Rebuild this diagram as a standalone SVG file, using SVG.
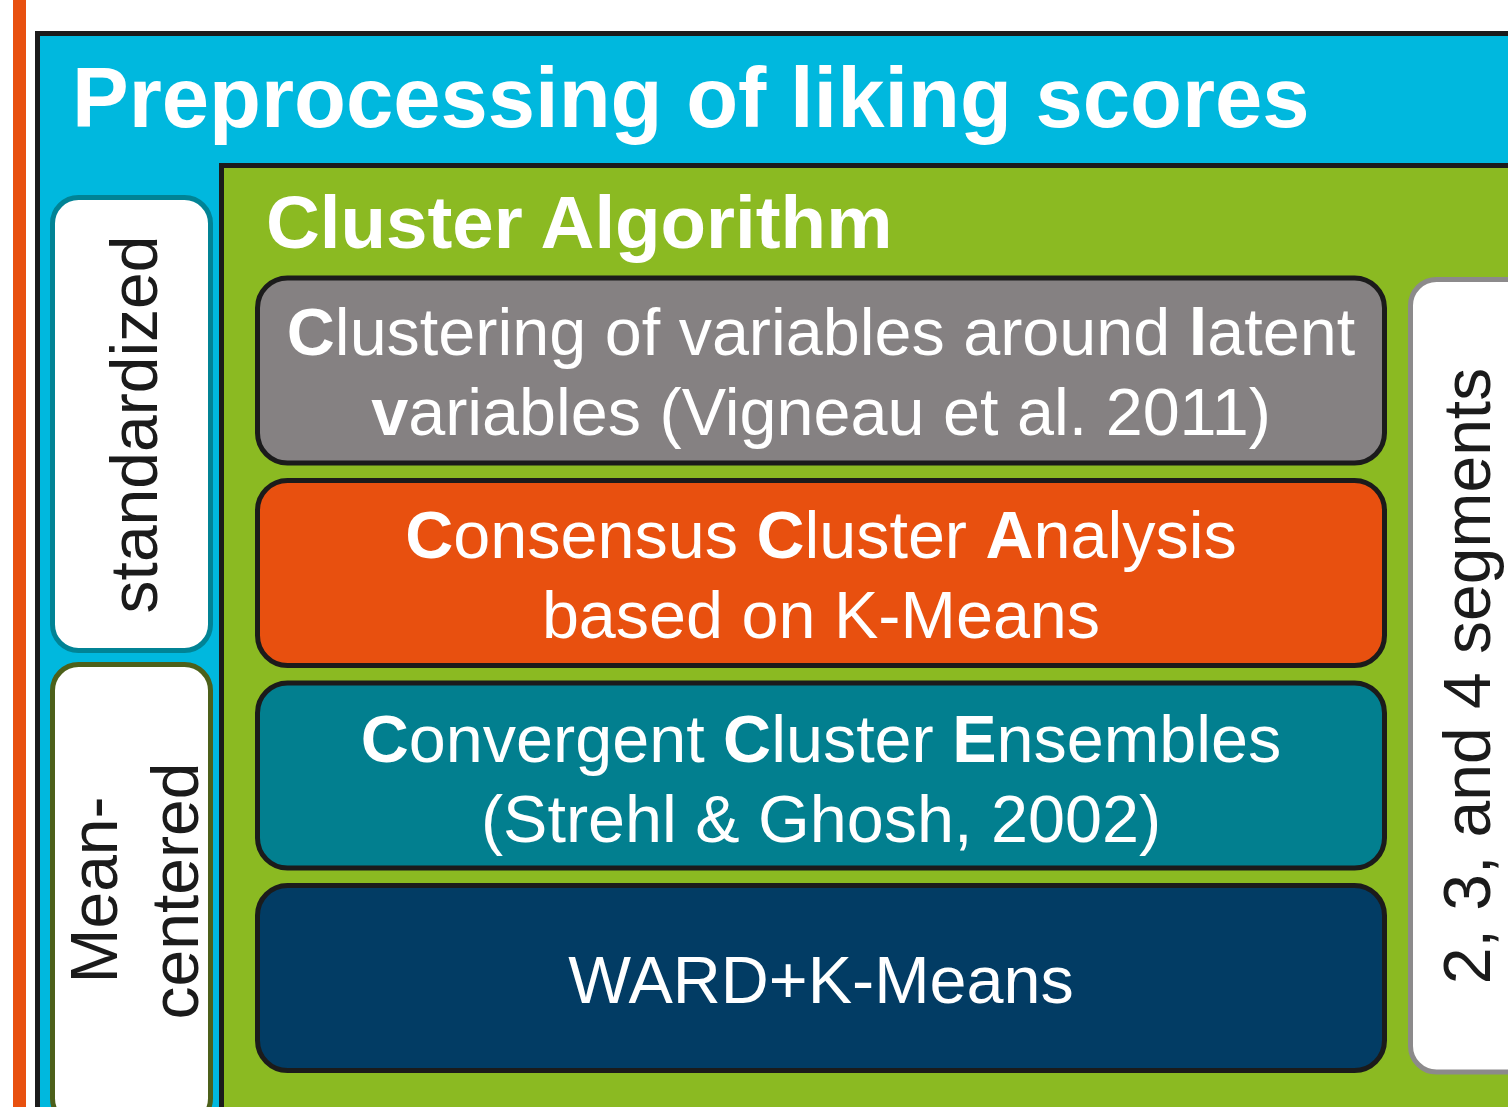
<svg xmlns="http://www.w3.org/2000/svg" width="1508" height="1107" viewBox="0 0 1508 1107">
<style>
.frame{stroke:#1b1b1b;stroke-width:5}
.algo{stroke:#1b1b1b;stroke-width:5}
.head{font-family:"Liberation Sans",Arial,sans-serif;font-weight:bold;fill:#ffffff}
.lbl{font-family:"Liberation Sans",Arial,sans-serif;font-size:66.5px;fill:#ffffff;text-anchor:middle}
.side{font-family:"Liberation Sans",Arial,sans-serif;font-size:66px;fill:#1b1b1b;text-anchor:middle}
.b{font-weight:bold}
</style>
<rect x="0" y="0" width="1508" height="1107" fill="#ffffff"/>
<rect id="orange-bar" x="13" y="0" width="13" height="1107" fill="#E8500F"/>
<g id="preprocessing">
  <rect class="frame" x="37.5" y="33.5" width="1520" height="1120" fill="#00B8DE"/>
  <text class="head" x="72" y="127" font-size="85">Preprocessing of liking scores</text>
</g>
<g id="standardized">
  <rect x="52.5" y="197.5" width="158" height="453" rx="26" fill="#ffffff" stroke="#018395" stroke-width="5"/>
  <text class="side" transform="translate(157,424.5) rotate(-90)">standardized</text>
</g>
<g id="mean-centered">
  <rect x="52.5" y="664.5" width="158" height="460" rx="26" fill="#ffffff" stroke="#4C601A" stroke-width="5"/>
  <text class="side" transform="translate(117,890) rotate(-90)">Mean-</text>
  <text class="side" transform="translate(198,891) rotate(-90)">centered</text>
</g>
<g id="cluster-algorithm">
  <rect class="frame" x="221.5" y="165.5" width="1320" height="990" fill="#8BBA22"/>
  <text class="head" x="266" y="248" font-size="74.5">Cluster Algorithm</text>
</g>
<g id="clv">
  <rect class="algo" x="257.5" y="278" width="1127" height="185" rx="30" fill="#858182"/>
  <text class="lbl" x="821" y="355"><tspan class="b">C</tspan>lustering of variables around <tspan class="b">l</tspan>atent</text>
  <text class="lbl" x="821" y="435"><tspan class="b">v</tspan>ariables (Vigneau et al. 2011)</text>
</g>
<g id="cca">
  <rect class="algo" x="257.5" y="480.5" width="1127" height="185" rx="30" fill="#E8500F"/>
  <text class="lbl" x="821" y="558"><tspan class="b">C</tspan>onsensus <tspan class="b">C</tspan>luster <tspan class="b">A</tspan>nalysis</text>
  <text class="lbl" x="821" y="638">based on K-Means</text>
</g>
<g id="cce">
  <rect class="algo" x="257.5" y="683" width="1127" height="185" rx="30" fill="#027F8F"/>
  <text class="lbl" x="821" y="762"><tspan class="b">C</tspan>onvergent <tspan class="b">C</tspan>luster <tspan class="b">E</tspan>nsembles</text>
  <text class="lbl" x="821" y="842">(Strehl &amp; Ghosh, 2002)</text>
</g>
<g id="ward">
  <rect class="algo" x="257.5" y="885.5" width="1127" height="185" rx="30" fill="#023C64"/>
  <text class="lbl" x="821" y="1003">WARD+K-Means</text>
</g>
<g id="segments">
  <rect x="1410.5" y="279.5" width="160" height="792.5" rx="26" fill="#ffffff" stroke="#8C8A8B" stroke-width="5"/>
  <text class="side" transform="translate(1490,676) rotate(-90)">2, 3, and 4 segments</text>
</g>
<g id="connectors"></g>
</svg>
